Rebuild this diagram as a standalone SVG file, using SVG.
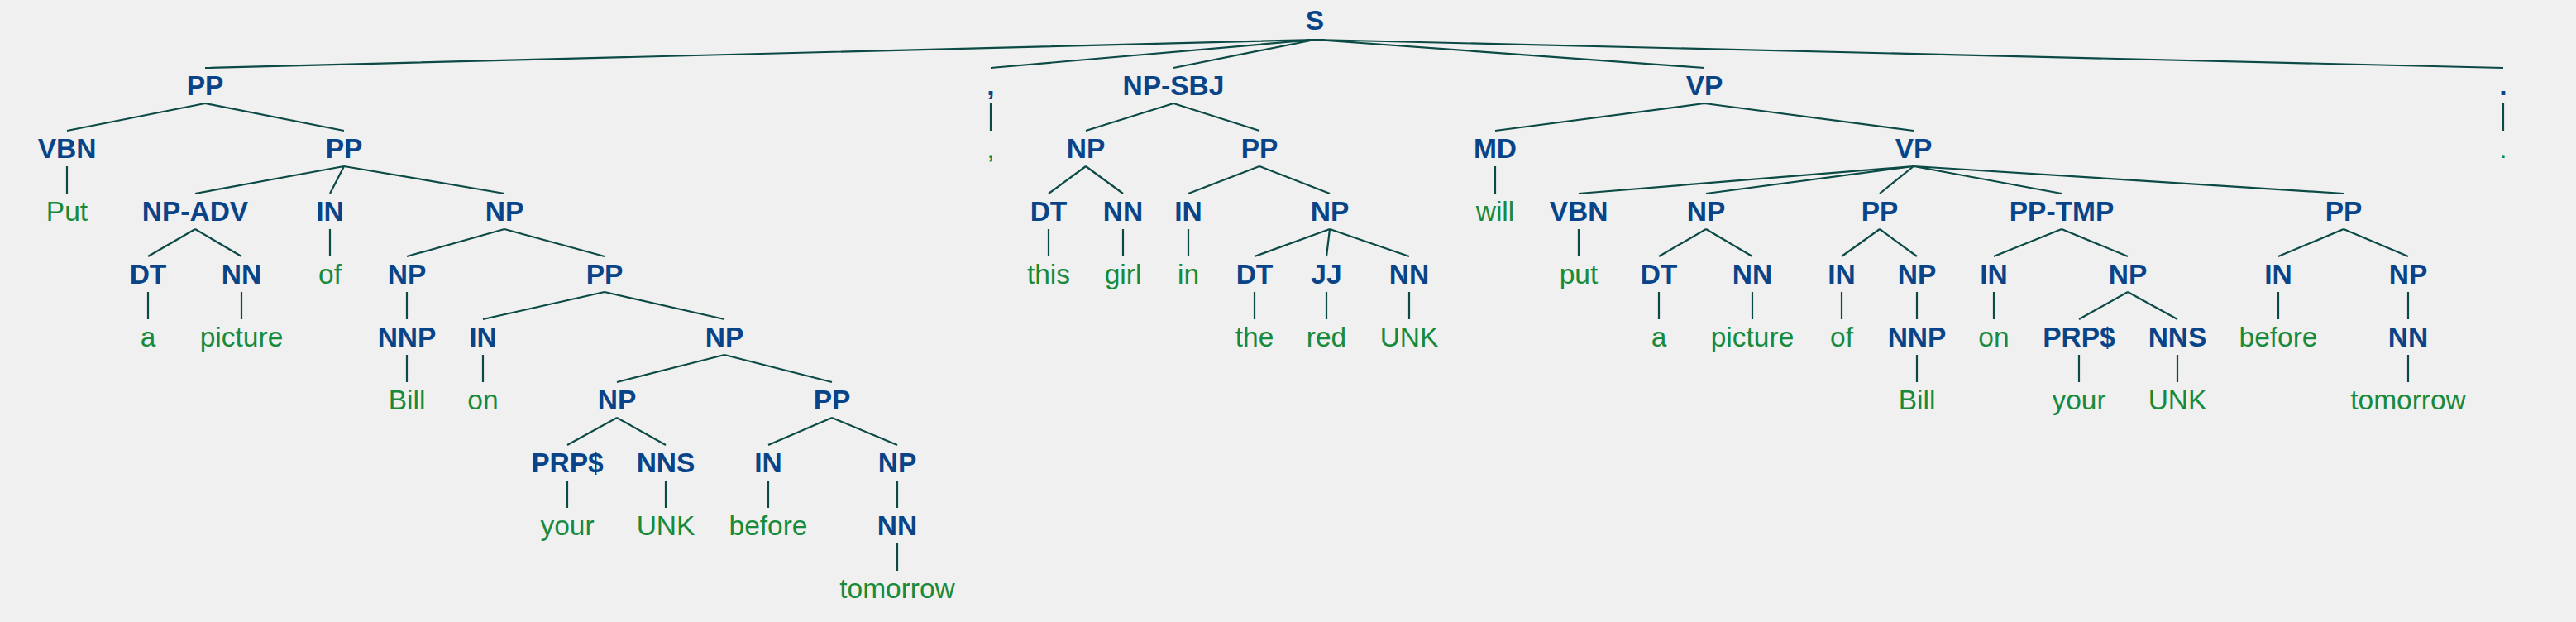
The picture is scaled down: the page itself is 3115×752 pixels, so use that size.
<svg xmlns="http://www.w3.org/2000/svg" width="3115" height="752" viewBox="0 0 3115 752">
<style>
.n{font-family:"Liberation Sans",Arial,sans-serif;font-weight:bold;font-size:33.5px;fill:#0a4488;text-anchor:middle}
.w{font-family:"Liberation Sans",Arial,sans-serif;font-size:33.5px;fill:#178a3c;text-anchor:middle}
#edges path{fill:none;stroke:#0b4a45;stroke-width:2.2}
</style>
<rect width="3115" height="752" fill="#f0f0f0"/>
<g id="edges">
<path d="M1590 48L248 82M1590 48L1198 82M1590 48L1419 82M1590 48L2061 82M1590 48L3027 82"/>
<path d="M248 125L81 158M248 125L416 158M81 201L81 234"/>
<path d="M416 201L236 234M416 201L399 234M416 201L610 234"/>
<path d="M236 277L179 310M236 277L292 310M179 353L179 386M292 353L292 386M399 277L399 310"/>
<path d="M610 277L492 310M610 277L731 310M492 353L492 386M492 429L492 462"/>
<path d="M731 353L584 386M731 353L876 386M584 429L584 462"/>
<path d="M876 429L746 462M876 429L1006 462"/>
<path d="M746 505L686 538M746 505L805 538M686 581L686 614M805 581L805 614"/>
<path d="M1006 505L929 538M1006 505L1085 538M929 581L929 614M1085 581L1085 614M1085 657L1085 690"/>
<path d="M1198 125L1198 158"/>
<path d="M1419 125L1313 158M1419 125L1523 158"/>
<path d="M1313 201L1268 234M1313 201L1358 234M1268 277L1268 310M1358 277L1358 310"/>
<path d="M1523 201L1437 234M1523 201L1608 234M1437 277L1437 310"/>
<path d="M1608 277L1517 310M1608 277L1604 310M1608 277L1704 310M1517 353L1517 386M1604 353L1604 386M1704 353L1704 386"/>
<path d="M2061 125L1808 158M2061 125L2314 158M1808 201L1808 234"/>
<path d="M2314 201L1909 234M2314 201L2063 234M2314 201L2273 234M2314 201L2493 234M2314 201L2834 234M1909 277L1909 310"/>
<path d="M2063 277L2006 310M2063 277L2119 310M2006 353L2006 386M2119 353L2119 386"/>
<path d="M2273 277L2227 310M2273 277L2318 310M2227 353L2227 386M2318 353L2318 386M2318 429L2318 462"/>
<path d="M2493 277L2411 310M2493 277L2573 310M2411 353L2411 386"/>
<path d="M2573 353L2514 386M2573 353L2633 386M2514 429L2514 462M2633 429L2633 462"/>
<path d="M2834 277L2755 310M2834 277L2912 310M2755 353L2755 386M2912 353L2912 386M2912 429L2912 462"/>
<path d="M3027 125L3027 158"/>
</g>
<g id="n-s"><text class="n" x="1590" y="36">S</text></g>
<g id="n-pp1"><text class="n" x="248" y="115">PP</text></g>
<g id="n-vbn1"><text class="n" x="81" y="191">VBN</text></g>
<g id="w-put1"><text class="w" x="81" y="267">Put</text></g>
<g id="n-pp2"><text class="n" x="416" y="191">PP</text></g>
<g id="n-npadv"><text class="n" x="236" y="267">NP-ADV</text></g>
<g id="n-dt1"><text class="n" x="179" y="343">DT</text></g>
<g id="w-a1"><text class="w" x="179" y="419">a</text></g>
<g id="n-nn1"><text class="n" x="292" y="343">NN</text></g>
<g id="w-picture1"><text class="w" x="292" y="419">picture</text></g>
<g id="n-in1"><text class="n" x="399" y="267">IN</text></g>
<g id="w-of1"><text class="w" x="399" y="343">of</text></g>
<g id="n-np1"><text class="n" x="610" y="267">NP</text></g>
<g id="n-np2"><text class="n" x="492" y="343">NP</text></g>
<g id="n-nnp1"><text class="n" x="492" y="419">NNP</text></g>
<g id="w-bill1"><text class="w" x="492" y="495">Bill</text></g>
<g id="n-pp3"><text class="n" x="731" y="343">PP</text></g>
<g id="n-in2"><text class="n" x="584" y="419">IN</text></g>
<g id="w-on1"><text class="w" x="584" y="495">on</text></g>
<g id="n-np3"><text class="n" x="876" y="419">NP</text></g>
<g id="n-np4"><text class="n" x="746" y="495">NP</text></g>
<g id="n-prp1"><text class="n" x="686" y="571">PRP$</text></g>
<g id="w-your1"><text class="w" x="686" y="647">your</text></g>
<g id="n-nns1"><text class="n" x="805" y="571">NNS</text></g>
<g id="w-unk1"><text class="w" x="805" y="647">UNK</text></g>
<g id="n-pp4"><text class="n" x="1006" y="495">PP</text></g>
<g id="n-in3"><text class="n" x="929" y="571">IN</text></g>
<g id="w-before1"><text class="w" x="929" y="647">before</text></g>
<g id="n-np5"><text class="n" x="1085" y="571">NP</text></g>
<g id="n-nn2"><text class="n" x="1085" y="647">NN</text></g>
<g id="w-tomorrow1"><text class="w" x="1085" y="723">tomorrow</text></g>
<g id="n-comma"><text class="n" x="1198" y="115">,</text></g>
<g id="w-comma"><text class="w" x="1198" y="191">,</text></g>
<g id="n-npsbj"><text class="n" x="1419" y="115">NP-SBJ</text></g>
<g id="n-np6"><text class="n" x="1313" y="191">NP</text></g>
<g id="n-dt2"><text class="n" x="1268" y="267">DT</text></g>
<g id="w-this"><text class="w" x="1268" y="343">this</text></g>
<g id="n-nn3"><text class="n" x="1358" y="267">NN</text></g>
<g id="w-girl"><text class="w" x="1358" y="343">girl</text></g>
<g id="n-pp5"><text class="n" x="1523" y="191">PP</text></g>
<g id="n-in4"><text class="n" x="1437" y="267">IN</text></g>
<g id="w-in"><text class="w" x="1437" y="343">in</text></g>
<g id="n-np7"><text class="n" x="1608" y="267">NP</text></g>
<g id="n-dt3"><text class="n" x="1517" y="343">DT</text></g>
<g id="w-the"><text class="w" x="1517" y="419">the</text></g>
<g id="n-jj"><text class="n" x="1604" y="343">JJ</text></g>
<g id="w-red"><text class="w" x="1604" y="419">red</text></g>
<g id="n-nn4"><text class="n" x="1704" y="343">NN</text></g>
<g id="w-unk2"><text class="w" x="1704" y="419">UNK</text></g>
<g id="n-vp1"><text class="n" x="2061" y="115">VP</text></g>
<g id="n-md"><text class="n" x="1808" y="191">MD</text></g>
<g id="w-will"><text class="w" x="1808" y="267">will</text></g>
<g id="n-vp2"><text class="n" x="2314" y="191">VP</text></g>
<g id="n-vbn2"><text class="n" x="1909" y="267">VBN</text></g>
<g id="w-put2"><text class="w" x="1909" y="343">put</text></g>
<g id="n-np8"><text class="n" x="2063" y="267">NP</text></g>
<g id="n-dt4"><text class="n" x="2006" y="343">DT</text></g>
<g id="w-a2"><text class="w" x="2006" y="419">a</text></g>
<g id="n-nn5"><text class="n" x="2119" y="343">NN</text></g>
<g id="w-picture2"><text class="w" x="2119" y="419">picture</text></g>
<g id="n-pp6"><text class="n" x="2273" y="267">PP</text></g>
<g id="n-in5"><text class="n" x="2227" y="343">IN</text></g>
<g id="w-of2"><text class="w" x="2227" y="419">of</text></g>
<g id="n-np9"><text class="n" x="2318" y="343">NP</text></g>
<g id="n-nnp2"><text class="n" x="2318" y="419">NNP</text></g>
<g id="w-bill2"><text class="w" x="2318" y="495">Bill</text></g>
<g id="n-pptmp"><text class="n" x="2493" y="267">PP-TMP</text></g>
<g id="n-in6"><text class="n" x="2411" y="343">IN</text></g>
<g id="w-on2"><text class="w" x="2411" y="419">on</text></g>
<g id="n-np10"><text class="n" x="2573" y="343">NP</text></g>
<g id="n-prp2"><text class="n" x="2514" y="419">PRP$</text></g>
<g id="w-your2"><text class="w" x="2514" y="495">your</text></g>
<g id="n-nns2"><text class="n" x="2633" y="419">NNS</text></g>
<g id="w-unk3"><text class="w" x="2633" y="495">UNK</text></g>
<g id="n-pp7"><text class="n" x="2834" y="267">PP</text></g>
<g id="n-in7"><text class="n" x="2755" y="343">IN</text></g>
<g id="w-before2"><text class="w" x="2755" y="419">before</text></g>
<g id="n-np11"><text class="n" x="2912" y="343">NP</text></g>
<g id="n-nn6"><text class="n" x="2912" y="419">NN</text></g>
<g id="w-tomorrow2"><text class="w" x="2912" y="495">tomorrow</text></g>
<g id="n-period"><text class="n" x="3027" y="115">.</text></g>
<g id="w-period"><text class="w" x="3027" y="191">.</text></g>
</svg>
